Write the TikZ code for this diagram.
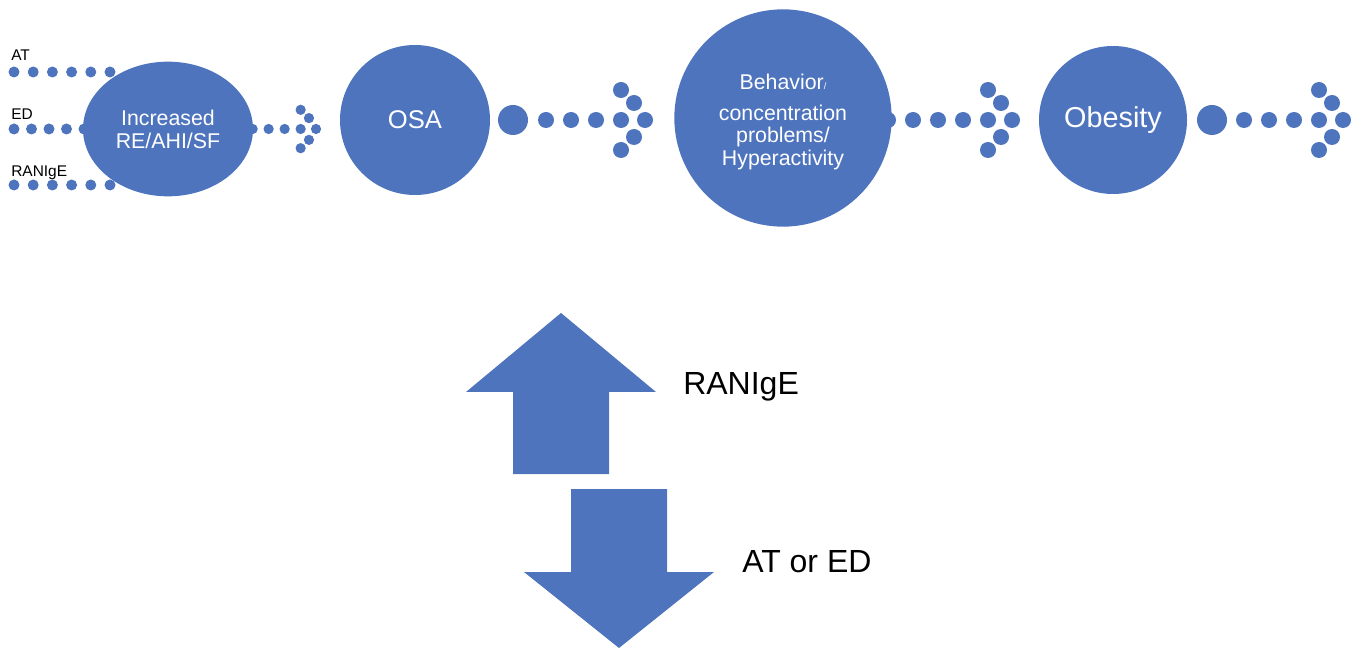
\documentclass[tikz,border=0pt]{standalone}
\usepackage{fontspec}
\setmainfont{Liberation Sans}
\usetikzlibrary{shapes.geometric}
\definecolor{oblue}{RGB}{78,116,190}

\begin{document}
\begin{tikzpicture}[
  x=0.75pt, y=-0.75pt,
  blob/.style={circle, fill=oblue, text=white, inner sep=0pt, align=center},
  dot/.style={fill=oblue},
  tag/.style={anchor=base west, inner sep=0pt, font=\fontsize{11.6}{13}\selectfont},
  bigtag/.style={anchor=base west, inner sep=0pt, font=\fontsize{24}{28}\selectfont}
]
\useasboundingbox (0,0) rectangle (1356,648);

% dotted arrows first, the blobs sit on top of them
\foreach \tx/\ty/\s in {316/129/0.64, 645/120/1, 1012/120/1, 1343/120/1}
  \foreach \dx/\dy in {0/0, -11/-17, -11/17, -24/-30, -24/30, -24/0, -49/0, -74/0, -99/0}
    \fill[dot] (\tx+\s*\dx, \ty+\s*\dy) circle (\s*8);
\fill[dot] (888,120) circle (8);
\fill[dot] (513,120) circle (15) (1212,120) circle (15);

\foreach \y in {72,185}
  \foreach \k in {0,...,5}
    \fill[dot] (14+19.2*\k,\y) circle (5.5);
\foreach \k in {0,...,4}
  \fill[dot] (14+17.5*\k,129) circle (5.5);

\node[tag] (at) at (11,61) {AT};
\node[tag] (ed) at (11,120) {ED};
\node[tag] (ranige) at (11,177) {RANIgE};

\node[blob, ellipse, minimum width=127.5pt, minimum height=101pt, font=\fontsize{16}{17.3}\selectfont] (re) at (168,129) {Increased\\RE/AHI/SF};
\node[blob, minimum size=112.5pt, font=\fontsize{19.2}{22}\selectfont] (osa) at (415,120) {OSA};
\node[blob, minimum size=163pt] (beh) at (783,118) {};
\node[text=white, align=center, inner sep=0pt, font=\fontsize{16}{17.2}\selectfont] (behtext) at (783,122) {Behavior{\fontsize{7}{8}\selectfont/}\\[6pt]concentration\\problems/\\Hyperactivity};
\node[blob, minimum size=111pt, font=\fontsize{21.6}{24}\selectfont] (obe) at (1113,120) {Obesity};

\fill[dot] (561,313) -- (656,392) -- (609,392) -- (609,474) -- (513,474) -- (513,392) -- (466,392) -- cycle;
\fill[dot] (571,489) -- (667,489) -- (667,572) -- (714,572) -- (619,648) -- (524,572) -- (571,572) -- cycle;
\node[bigtag] (up) at (683,394) {RANIgE};
\node[bigtag] (down) at (742,572) {AT or ED};
\end{tikzpicture}
\end{document}
